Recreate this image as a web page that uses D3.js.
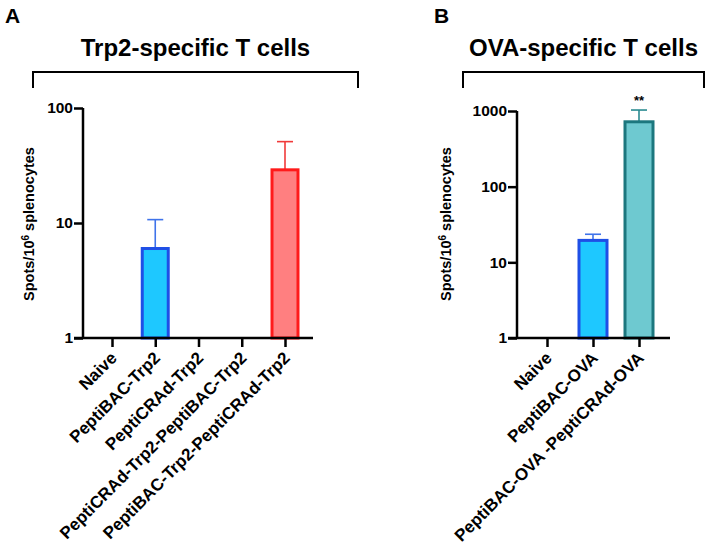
<!DOCTYPE html>
<html>
<head>
<meta charset="utf-8">
<script src="https://cdn.jsdelivr.net/npm/d3@7"></script>
<style>
  body { margin: 0; background: #fff; }
  svg text { font-family: "Liberation Sans", Arial, sans-serif; font-weight: bold; fill: #000; }
</style>
</head>
<body>
<div id="vis"></div>
<script>
// Panel A data
const catsA = ["Naive", "PeptiBAC-Trp2", "PeptiCRAd-Trp2", "PeptiCRAd-Trp2-PeptiBAC-Trp2", "PeptiBAC-Trp2-PeptiCRAd-Trp2"];
const meanA = [null, 6, null, null, 29];
const errA = [null, 4.7, null, null, 22];
const fillA = [null, "#1ec8ff", null, null, "#ff7f80"];
const strokeA = [null, "#1f4fe6", null, null, "#ff1a1a"];
const errColA = [null, "#3f73ea", null, null, "#f03a3a"];
const ticksA = [1, 10, 100];

// Panel B data
const catsB = ["Naive", "PeptiBAC-OVA", "PeptiBAC-OVA -PeptiCRAd-OVA"];
const meanB = [null, 19.5, 720];
const errB = [null, 4, 310];
const fillB = [null, "#1ec8ff", "#6ec9d0"];
const strokeB = [null, "#1f4fe6", "#1c777e"];
const errColB = [null, "#3f73ea", "#2a8a90"];
const ticksB = [1, 10, 100, 1000];
const sigB = [null, null, "**"];

const svg = d3.select("#vis").append("svg")
    .attr("width", 708)
    .attr("height", 554);

function drawPanel(o) {
  const g = svg.append("g");

  // panel letter + title
  g.append("text").attr("x", o.letterX).attr("y", 23)
    .style("font-size", "21px").text(o.letter);
  g.append("text").attr("x", (o.brL + o.brR) / 2).attr("y", 56)
    .attr("text-anchor", "middle")
    .style("font-size", "24px").text(o.title);

  // bracket
  g.append("path")
    .attr("d", `M${o.brL},88V72H${o.brR}V88`)
    .attr("fill", "none").attr("stroke", "#000").attr("stroke-width", 2);

  const x = d3.scalePoint().domain(o.cats).range(o.xRange);
  const y = d3.scaleLog().domain([1, o.ticks[o.ticks.length - 1]]).range([338, o.yTop]);

  // bars
  o.cats.forEach(function (c, i) {
    if (o.mean[i] == null) return;
    const cx = x(c), top = y(o.mean[i]);
    const errTop = y(o.mean[i] + o.err[i]);
    g.append("line")
      .attr("x1", cx).attr("x2", cx).attr("y1", top).attr("y2", errTop)
      .attr("stroke", o.errCol[i]).attr("stroke-width", 1.6);
    g.append("line")
      .attr("x1", cx - 8).attr("x2", cx + 8).attr("y1", errTop).attr("y2", errTop)
      .attr("stroke", o.errCol[i]).attr("stroke-width", 1.6);
    g.append("rect")
      .attr("x", cx - o.barW / 2).attr("y", top)
      .attr("width", o.barW).attr("height", y(1) - top)
      .attr("fill", o.fill[i]).attr("stroke", o.stroke[i]).attr("stroke-width", 3);
    if (o.sig && o.sig[i]) {
      g.append("text").attr("x", cx).attr("y", errTop - 5)
        .attr("text-anchor", "middle").style("font-size", "13px").text(o.sig[i]);
    }
  });

  // y axis
  const yAxis = g.append("g").attr("transform", `translate(${o.axisX},0)`)
    .call(d3.axisLeft(y).tickValues(o.ticks).tickFormat(d3.format("d")).tickSize(9).tickPadding(1));
  yAxis.select(".domain").attr("stroke-width", 2.5).attr("d", `M0,${o.yTop}V${y(1)}`);
  yAxis.selectAll(".tick line").attr("stroke-width", 2.5);
  yAxis.selectAll(".tick text").style("font-size", "15.5px").style("font-family", "Liberation Sans, Arial, sans-serif").attr("font-weight", "bold");

  // x axis
  const xAxis = g.append("g").attr("transform", `translate(0,${y(1)})`)
    .call(d3.axisBottom(x).tickSize(9).tickFormat(""));
  xAxis.select(".domain").attr("stroke-width", 2.5).attr("d", `M${o.axisX - 9},0H${o.xEnd}`);
  xAxis.selectAll(".tick line").attr("stroke-width", 2.5);

  // category labels
  o.cats.forEach(function (c) {
    g.append("text")
      .attr("transform", `translate(${x(c) + 6},${y(1) + 21}) rotate(-45)`)
      .attr("text-anchor", "end")
      .style("font-size", "17px").text(c);
  });

  // y label
  const yl = g.append("text")
    .attr("transform", `translate(${o.yLabX},224) rotate(-90)`)
    .attr("text-anchor", "middle")
    .style("font-size", "14.5px");
  yl.append("tspan").text("Spots/10");
  yl.append("tspan").attr("baseline-shift", "super").style("font-size", "10px").text("6");
  yl.append("tspan").text(" splenocytes");
}

drawPanel({
  letter: "A", letterX: 5, title: "Trp2-specific T cells",
  brL: 33, brR: 358, cats: catsA, mean: meanA, err: errA,
  fill: fillA, stroke: strokeA, errCol: errColA, ticks: ticksA,
  xRange: [112, 285], axisX: 83, xEnd: 313, yTop: 108, barW: 26, yLabX: 34
});

drawPanel({
  letter: "B", letterX: 434, title: "OVA-specific T cells",
  brL: 463, brR: 704, cats: catsB, mean: meanB, err: errB,
  fill: fillB, stroke: strokeB, errCol: errColB, ticks: ticksB, sig: sigB,
  xRange: [547, 639], axisX: 517, xEnd: 670, yTop: 111, barW: 28, yLabX: 451
});
</script>
</body>
</html>
